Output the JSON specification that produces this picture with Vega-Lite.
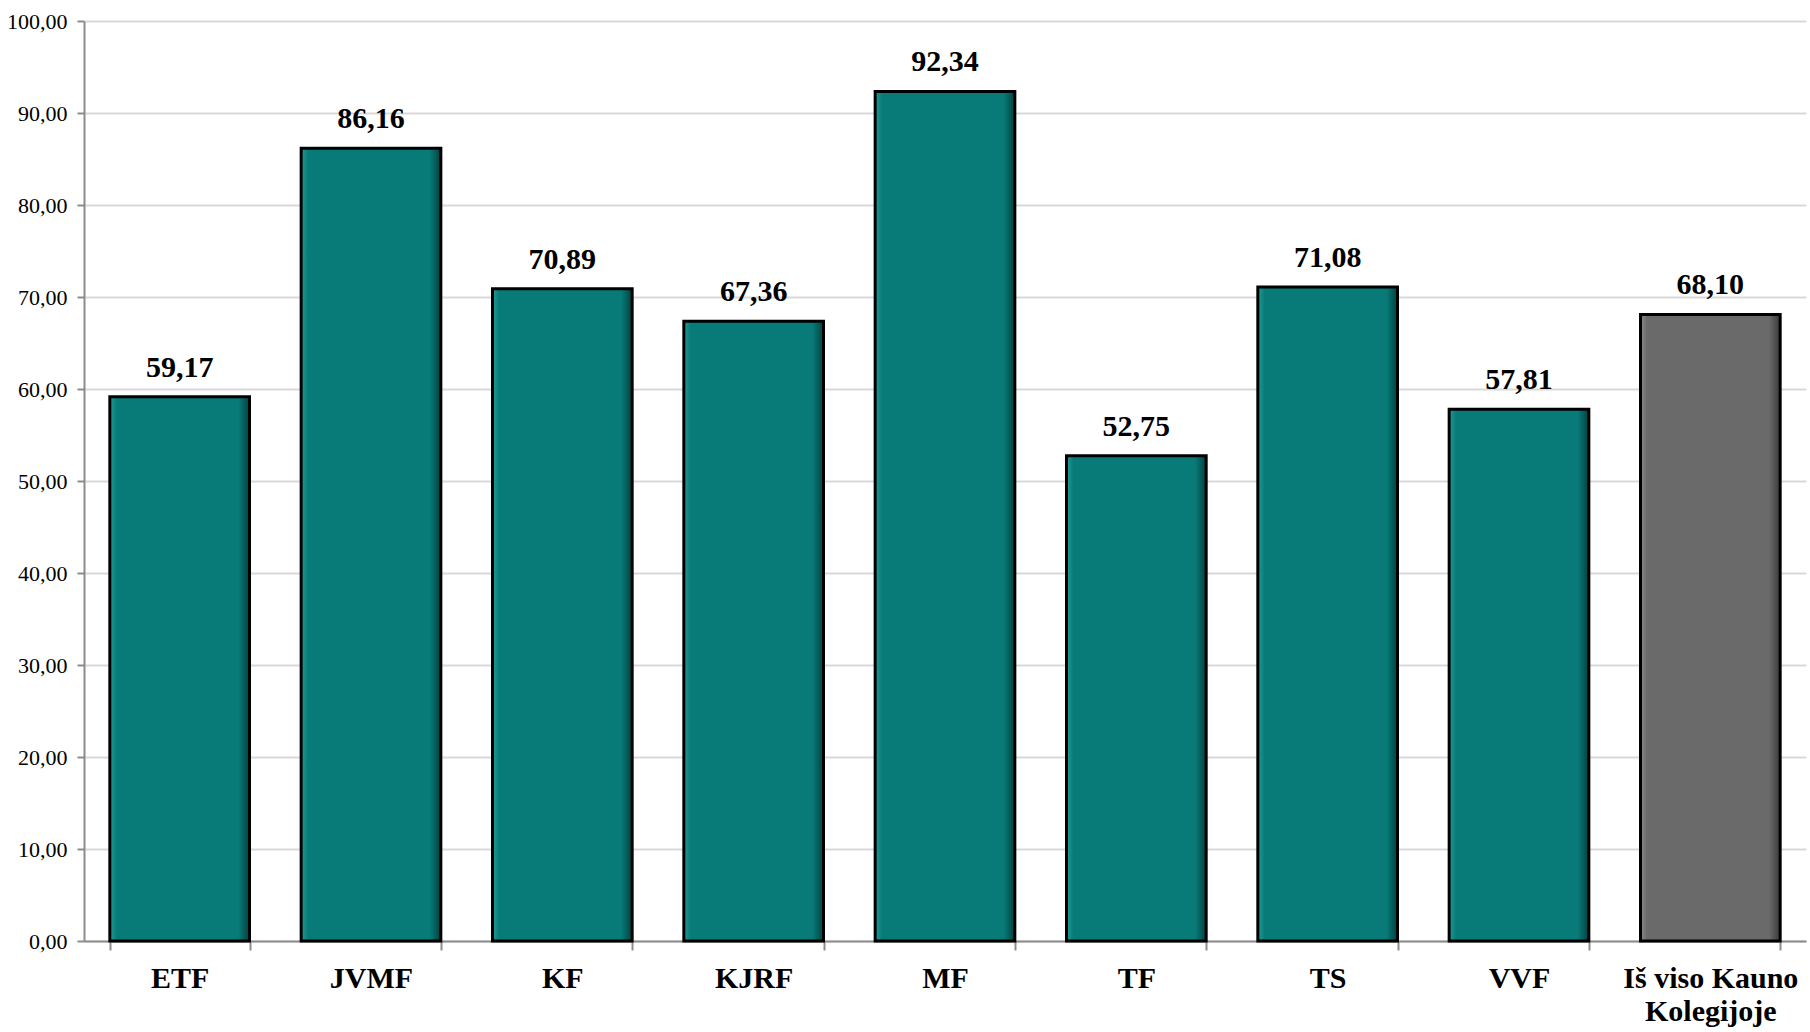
{
  "$schema": "https://vega.github.io/schema/vega-lite/v6.json",
  "width": 1722,
  "height": 920,
  "autosize": {"type": "none"},
  "padding": {"left": 84, "top": 21, "right": 4, "bottom": 91},
  "background": "white",
  "config": {
    "view": {"stroke": null},
    "locale": {"number": {"decimal": ",", "thousands": " ", "grouping": [3], "currency": ["", " €"]}},
    "font": "Liberation Serif"
  },
  "data": {
    "values": [
      {"kat": "ETF", "v": 59.17, "grupe": "f"},
      {"kat": "JVMF", "v": 86.16, "grupe": "f"},
      {"kat": "KF", "v": 70.89, "grupe": "f"},
      {"kat": "KJRF", "v": 67.36, "grupe": "f"},
      {"kat": "MF", "v": 92.34, "grupe": "f"},
      {"kat": "TF", "v": 52.75, "grupe": "f"},
      {"kat": "TS", "v": 71.08, "grupe": "f"},
      {"kat": "VVF", "v": 57.81, "grupe": "f"},
      {"kat": "Iš viso Kauno Kolegijoje", "v": 68.10, "grupe": "k"}
    ]
  },
  "encoding": {
    "x": {
      "field": "kat", "type": "nominal", "sort": null,
      "scale": {"paddingInner": 0.27, "paddingOuter": 0.135},
      "axis": {
        "title": null, "labelAngle": 0, "labelFont": "Liberation Serif", "labelFontSize": 30,
        "labelFontWeight": "bold", "labelColor": "black", "labelPadding": 13, "labelLineHeight": 33,
        "labelExpr": "datum.label == 'Iš viso Kauno Kolegijoje' ? ['Iš viso Kauno', 'Kolegijoje'] : datum.label",
        "tickBand": "extent", "tickSize": 9, "tickColor": "#8c8c8c", "tickWidth": 2,
        "domainColor": "#8c8c8c", "domainWidth": 2, "grid": false
      }
    },
    "y": {
      "field": "v", "type": "quantitative",
      "scale": {"domain": [0, 100]},
      "axis": {
        "title": null, "format": ".2f", "values": [0, 10, 20, 30, 40, 50, 60, 70, 80, 90, 100],
        "labelFont": "Liberation Serif", "labelFontSize": 22, "labelColor": "black", "labelPadding": 10,
        "tickSize": 7, "tickColor": "#8c8c8c", "tickWidth": 2,
        "domainColor": "#8c8c8c", "domainWidth": 2,
        "grid": true, "gridColor": "#d9d9d9", "gridWidth": 2
      }
    }
  },
  "layer": [
    {
      "transform": [{"filter": "datum.grupe == 'f'"}],
      "mark": {
        "type": "bar", "stroke": "black", "strokeWidth": 3,
        "fill": {"gradient": "linear", "x1": 0, "y1": 0, "x2": 1, "y2": 0,
          "stops": [
            {"offset": 0, "color": "#1f9c98"},
            {"offset": 0.05, "color": "#087B78"},
            {"offset": 0.92, "color": "#087B78"},
            {"offset": 1, "color": "#03403e"}
          ]}
      }
    },
    {
      "transform": [{"filter": "datum.grupe == 'k'"}],
      "mark": {
        "type": "bar", "stroke": "black", "strokeWidth": 3,
        "fill": {"gradient": "linear", "x1": 0, "y1": 0, "x2": 1, "y2": 0,
          "stops": [
            {"offset": 0, "color": "#8a8a8a"},
            {"offset": 0.05, "color": "#6A6A6A"},
            {"offset": 0.92, "color": "#6A6A6A"},
            {"offset": 1, "color": "#3a3a3a"}
          ]}
      }
    },
    {
      "mark": {"type": "text", "dy": -20, "baseline": "alphabetic", "font": "Liberation Serif", "fontSize": 30, "fontWeight": "bold", "color": "black"},
      "encoding": {
        "text": {"field": "v", "type": "quantitative", "format": ".2f"}
      }
    }
  ]
}
